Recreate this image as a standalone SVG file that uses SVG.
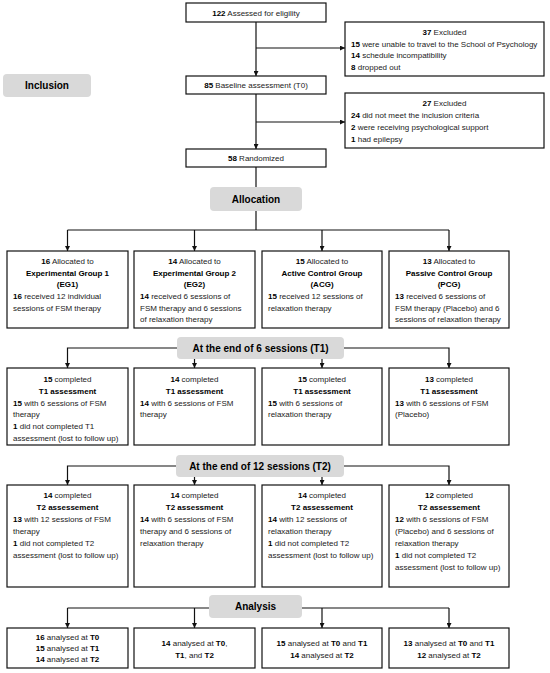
<svg xmlns="http://www.w3.org/2000/svg" width="550" height="673" viewBox="0 0 550 673">
<style>
.bx{fill:#fff;stroke:#111;stroke-width:1.2}
.gb{fill:#d9d9d9;stroke:none}
.t{font-family:"Liberation Sans",Arial,sans-serif;font-size:8px;fill:#222}
.c{text-anchor:middle}
.k{font-weight:bold;fill:#000}
.h{font-family:"Liberation Sans",Arial,sans-serif;font-size:10px;font-weight:bold;fill:#000;text-anchor:middle}
.ln{fill:none;stroke:#111;stroke-width:1.2}
.ar{fill:none;stroke:#111;stroke-width:1.2;marker-end:url(#ah)}
</style>
<defs>
<marker id="ah" viewBox="0 0 6 6" refX="6" refY="3" markerWidth="5" markerHeight="5" orient="auto" markerUnits="userSpaceOnUse"><path d="M0,0 L6,3 L0,6 z" fill="#111"/></marker>
</defs>
<rect width="550" height="673" fill="#fff"/>

<g id="connectors">
<path class="ar" d="M256,22 V76"/>
<path class="ar" d="M256,48 H345"/>
<path class="ar" d="M256,94 V149"/>
<path class="ar" d="M256,122 H345"/>
<path class="ln" d="M256,167 V187"/>
<path class="ln" d="M256,211 V230"/>
<path class="ln" d="M67.5,230 H449"/>
<path class="ar" d="M67.5,230 V251"/>
<path class="ar" d="M194.5,230 V251"/>
<path class="ar" d="M322,230 V251"/>
<path class="ar" d="M449,230 V251"/>
<path class="ar" d="M177,348 H67.5 V368"/>
<path class="ar" d="M344,348 H449 V368"/>
<path class="ar" d="M194.5,359 V368"/>
<path class="ar" d="M322,359 V368"/>
<path class="ar" d="M176,466 H67.5 V485"/>
<path class="ar" d="M344,466 H449 V485"/>
<path class="ar" d="M194.5,477 V485"/>
<path class="ar" d="M322,477 V485"/>
<path class="ln" d="M67.5,608 H449"/>
<path class="ar" d="M67.5,608 V628"/>
<path class="ar" d="M194.5,608 V628"/>
<path class="ar" d="M322,608 V628"/>
<path class="ar" d="M449,608 V628"/>
</g>

<g id="inclusion">
<rect class="gb" x="3" y="74" width="88" height="23" rx="4"/>
<text class="h" x="47" y="89">Inclusion</text>
</g>

<g id="assessed">
<rect class="bx" x="186" y="3" width="140" height="19"/>
<text class="t c" x="256" y="15.5"><tspan class="k">122</tspan> Assessed for eligility</text>
</g>

<g id="excluded1">
<rect class="bx" x="345" y="22" width="199" height="54"/>
<text class="t c" x="444.5" y="35"><tspan class="k">37</tspan> Excluded</text>
<text class="t" x="351" y="46.5"><tspan class="k">15</tspan> were unable to travel to the School of Psychology</text>
<text class="t" x="351" y="58"><tspan class="k">14</tspan> schedule incompatibility</text>
<text class="t" x="351" y="69.5"><tspan class="k">8</tspan> dropped out</text>
</g>

<g id="baseline">
<rect class="bx" x="186" y="76" width="140" height="18"/>
<text class="t c" x="256" y="88"><tspan class="k">85</tspan> Baseline assessment (T0)</text>
</g>

<g id="excluded2">
<rect class="bx" x="345" y="93" width="199" height="55"/>
<text class="t c" x="444.5" y="106"><tspan class="k">27</tspan> Excluded</text>
<text class="t" x="351" y="118"><tspan class="k">24</tspan> did not meet the inclusion criteria</text>
<text class="t" x="351" y="130"><tspan class="k">2</tspan> were receiving psychological support</text>
<text class="t" x="351" y="142"><tspan class="k">1</tspan> had epilepsy</text>
</g>

<g id="randomized">
<rect class="bx" x="186" y="149" width="140" height="18"/>
<text class="t c" x="256" y="161"><tspan class="k">58</tspan> Randomized</text>
</g>

<g id="allocation">
<rect class="gb" x="210" y="187" width="92" height="24" rx="4"/>
<text class="h" x="256" y="202.5">Allocation</text>
</g>

<g id="eg1">
<rect class="bx" x="7" y="251" width="121" height="77"/>
<text class="t c" x="67.5" y="264"><tspan class="k">16</tspan> Allocated to</text>
<text class="t c k" x="67.5" y="275.5">Experimental Group 1</text>
<text class="t c k" x="67.5" y="287">(EG1)</text>
<text class="t" x="13" y="299"><tspan class="k">16</tspan> received 12 individual</text>
<text class="t" x="13" y="310.5">sessions of FSM therapy</text>
</g>

<g id="eg2">
<rect class="bx" x="134" y="251" width="121" height="77"/>
<text class="t c" x="194.5" y="264"><tspan class="k">14</tspan> Allocated to</text>
<text class="t c k" x="194.5" y="275.5">Experimental Group 2</text>
<text class="t c k" x="194.5" y="287">(EG2)</text>
<text class="t" x="140" y="299"><tspan class="k">14</tspan> received 6 sessions of</text>
<text class="t" x="140" y="310.5">FSM therapy and 6 sessions</text>
<text class="t" x="140" y="322">of relaxation therapy</text>
</g>

<g id="acg">
<rect class="bx" x="262" y="251" width="120" height="77"/>
<text class="t c" x="322" y="264"><tspan class="k">15</tspan> Allocated to</text>
<text class="t c k" x="322" y="275.5">Active Control Group</text>
<text class="t c k" x="322" y="287">(ACG)</text>
<text class="t" x="268" y="299"><tspan class="k">15</tspan> received 12 sessions of</text>
<text class="t" x="268" y="310.5">relaxation therapy</text>
</g>

<g id="pcg">
<rect class="bx" x="389" y="251" width="120" height="77"/>
<text class="t c" x="449" y="264"><tspan class="k">13</tspan> Allocated to</text>
<text class="t c k" x="449" y="275.5">Passive Control Group</text>
<text class="t c k" x="449" y="287">(PCG)</text>
<text class="t" x="395" y="299"><tspan class="k">13</tspan> received 6 sessions of</text>
<text class="t" x="395" y="310.5">FSM therapy (Placebo) and 6</text>
<text class="t" x="395" y="322">sessions of relaxation therapy</text>
</g>

<g id="t1label">
<rect class="gb" x="177" y="337" width="167" height="22" rx="4"/>
<text class="h" x="260.5" y="351.5">At the end of 6 sessions (T1)</text>
</g>

<g id="t1-eg1">
<rect class="bx" x="7" y="368" width="121" height="77"/>
<text class="t c" x="67.5" y="382"><tspan class="k">15</tspan> completed</text>
<text class="t c k" x="67.5" y="393.8">T1 assessment</text>
<text class="t" x="13" y="405.6"><tspan class="k">15</tspan> with 6 sessions of FSM</text>
<text class="t" x="13" y="417.4">therapy</text>
<text class="t" x="13" y="429.2"><tspan class="k">1</tspan> did not completed T1</text>
<text class="t" x="13" y="441">assessment (lost to follow up)</text>
</g>

<g id="t1-eg2">
<rect class="bx" x="134" y="368" width="121" height="77"/>
<text class="t c" x="194.5" y="382"><tspan class="k">14</tspan> completed</text>
<text class="t c k" x="194.5" y="393.8">T1 assessment</text>
<text class="t" x="140" y="405.6"><tspan class="k">14</tspan> with 6 sessions of FSM</text>
<text class="t" x="140" y="417.4">therapy</text>
</g>

<g id="t1-acg">
<rect class="bx" x="262" y="368" width="120" height="77"/>
<text class="t c" x="322" y="382"><tspan class="k">15</tspan> completed</text>
<text class="t c k" x="322" y="393.8">T1 assessment</text>
<text class="t" x="268" y="405.6"><tspan class="k">15</tspan> with 6 sessions of</text>
<text class="t" x="268" y="417.4">relaxation therapy</text>
</g>

<g id="t1-pcg">
<rect class="bx" x="389" y="368" width="120" height="77"/>
<text class="t c" x="449" y="382"><tspan class="k">13</tspan> completed</text>
<text class="t c k" x="449" y="393.8">T1 assessment</text>
<text class="t" x="395" y="405.6"><tspan class="k">13</tspan> with 6 sessions of FSM</text>
<text class="t" x="395" y="417.4">(Placebo)</text>
</g>

<g id="t2label">
<rect class="gb" x="176" y="455" width="168" height="22" rx="4"/>
<text class="h" x="260" y="469.5">At the end of 12 sessions (T2)</text>
</g>

<g id="t2-eg1">
<rect class="bx" x="7" y="485" width="121" height="102"/>
<text class="t c" x="67.5" y="498"><tspan class="k">14</tspan> completed</text>
<text class="t c k" x="67.5" y="510">T2 assessement</text>
<text class="t" x="13" y="522"><tspan class="k">13</tspan> with 12 sessions of FSM</text>
<text class="t" x="13" y="533.5">therapy</text>
<text class="t" x="13" y="545.5"><tspan class="k">1</tspan> did not completed T2</text>
<text class="t" x="13" y="557.5">assessment (lost to follow up)</text>
</g>

<g id="t2-eg2">
<rect class="bx" x="134" y="485" width="121" height="102"/>
<text class="t c" x="194.5" y="498"><tspan class="k">14</tspan> completed</text>
<text class="t c k" x="194.5" y="510">T2 assessment</text>
<text class="t" x="140" y="522"><tspan class="k">14</tspan> with 6 sessions of FSM</text>
<text class="t" x="140" y="533.5">therapy and 6 sessions of</text>
<text class="t" x="140" y="545.5">relaxation therapy</text>
</g>

<g id="t2-acg">
<rect class="bx" x="262" y="485" width="120" height="102"/>
<text class="t c" x="322" y="498"><tspan class="k">14</tspan> completed</text>
<text class="t c k" x="322" y="510">T2 assessement</text>
<text class="t" x="268" y="522"><tspan class="k">14</tspan> with 12 sessions of</text>
<text class="t" x="268" y="533.5">relaxation therapy</text>
<text class="t" x="268" y="545.5"><tspan class="k">1</tspan> did not completed T2</text>
<text class="t" x="268" y="557.5">assessment (lost to follow up)</text>
</g>

<g id="t2-pcg">
<rect class="bx" x="389" y="485" width="120" height="102"/>
<text class="t c" x="449" y="498"><tspan class="k">12</tspan> completed</text>
<text class="t c k" x="449" y="510">T2 assessement</text>
<text class="t" x="395" y="522"><tspan class="k">12</tspan> with 6 sessions of FSM</text>
<text class="t" x="395" y="533.5">(Placebo) and 6 sessions of</text>
<text class="t" x="395" y="545.5">relaxation therapy</text>
<text class="t" x="395" y="557.5"><tspan class="k">1</tspan> did not completed T2</text>
<text class="t" x="395" y="569.5">assessment (lost to follow up)</text>
</g>

<g id="analysis">
<rect class="gb" x="209" y="595" width="93" height="23" rx="4"/>
<text class="h" x="255.5" y="610">Analysis</text>
</g>

<g id="an-eg1">
<rect class="bx" x="7" y="628" width="121" height="40"/>
<text class="t c" x="67.5" y="640"><tspan class="k">16</tspan> analysed at <tspan class="k">T0</tspan></text>
<text class="t c" x="67.5" y="651"><tspan class="k">15</tspan> analysed at <tspan class="k">T1</tspan></text>
<text class="t c" x="67.5" y="662"><tspan class="k">14</tspan> analysed at <tspan class="k">T2</tspan></text>
</g>

<g id="an-eg2">
<rect class="bx" x="134" y="628" width="121" height="40"/>
<text class="t c" x="194.5" y="646"><tspan class="k">14</tspan> analysed at <tspan class="k">T0</tspan>,</text>
<text class="t c" x="194.5" y="657.5"><tspan class="k">T1</tspan>, and <tspan class="k">T2</tspan></text>
</g>

<g id="an-acg">
<rect class="bx" x="262" y="628" width="120" height="40"/>
<text class="t c" x="322" y="646"><tspan class="k">15</tspan> analysed at <tspan class="k">T0</tspan> and <tspan class="k">T1</tspan></text>
<text class="t c" x="322" y="657.5"><tspan class="k">14</tspan> analysed at <tspan class="k">T2</tspan></text>
</g>

<g id="an-pcg">
<rect class="bx" x="389" y="628" width="120" height="40"/>
<text class="t c" x="449" y="646"><tspan class="k">13</tspan> analysed at <tspan class="k">T0</tspan> and <tspan class="k">T1</tspan></text>
<text class="t c" x="449" y="657.5"><tspan class="k">12</tspan> analysed at <tspan class="k">T2</tspan></text>
</g>
</svg>
